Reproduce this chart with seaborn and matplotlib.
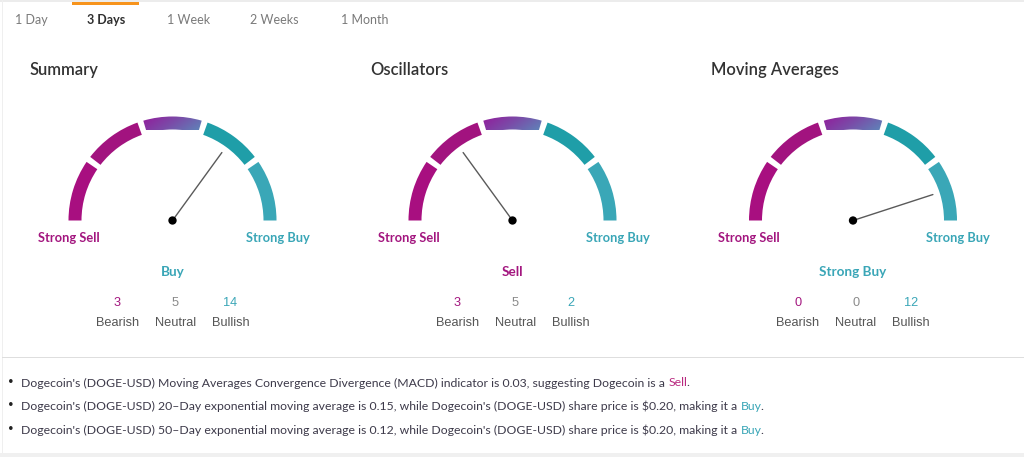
import numpy as np
import pandas as pd
import matplotlib
matplotlib.use("Agg")
import matplotlib.pyplot as plt
from matplotlib.patches import Wedge, Rectangle
from matplotlib.colors import LinearSegmentedColormap
import seaborn as sns

# ---------------- data ----------------
tabs = ["1 Day", "3 Days", "1 Week", "2 Weeks", "1 Month"]
active_tab = "3 Days"
panels = ["Summary", "Oscillators", "Moving Averages"]
needle_scores = [0.70, 0.30, 0.90]          # needle position (0 = Strong Sell, 1 = Strong Buy)
verdicts = ["Buy", "Sell", "Strong Buy"]
verdict_kind = ["buy", "sell", "buy"]
bearish = [3, 3, 0]
neutral = [5, 5, 0]
bullish = [14, 2, 12]
count_labels = ["Bearish", "Neutral", "Bullish"]
scale_ends = ["Strong Sell", "Strong Buy"]
bullet_texts = [
    "Dogecoin's (DOGE-USD) Moving Averages Convergence Divergence (MACD) indicator is 0.03, suggesting Dogecoin is a",
    "Dogecoin's (DOGE-USD) 20\u2013Day exponential moving average is 0.15, while Dogecoin's (DOGE-USD) share price is $0.20, making it a",
    "Dogecoin's (DOGE-USD) 50\u2013Day exponential moving average is 0.12, while Dogecoin's (DOGE-USD) share price is $0.20, making it a",
]
bullet_signals = ["Sell", "Buy", "Buy"]

# ---------------- style ----------------
sns.set_style("white")
plt.rcParams["font.family"] = ["Lato", "DejaVu Sans"]
plt.rcParams["text.parse_math"] = False

MAG = "#A3167F"
TEAL = "#3AA6B7"
GREY_N = "#8a8a8a"
seg_colors = ["#A80F80", "#A2137F", None, "#1F9EA8", "#3AA7B7"]
grad_cmap = LinearSegmentedColormap.from_list("mid", ["#95179A", "#7A4CA8", "#5C88BA"])

W, H = 1024, 457
fig = plt.figure(figsize=(W / 100, H / 100), dpi=100)
ax = fig.add_axes([0, 0, 1, 1])
ax.set_xlim(0, W)
ax.set_ylim(H, 0)
ax.axis("off")
renderer = fig.canvas.get_renderer()


def fit_font(txt, target_px):
    """Scale a text's font size so its rendered width equals target_px."""
    for _ in range(2):
        w = txt.get_window_extent(renderer=renderer).width
        txt.set_fontsize(txt.get_fontsize() * target_px / w)
    return txt.get_fontsize()


# frame elements
ax.add_patch(Rectangle((0, 0), W, 1.5, color="#ececec", lw=0))
ax.add_patch(Rectangle((72, 1.5), 67, 3, color="#F7941D", lw=0))
ax.add_patch(Rectangle((1.5, 0), 1, 453, color="#efefef", lw=0))
ax.add_patch(Rectangle((2, 357), W, 1.2, color="#dedede", lw=0))
ax.add_patch(Rectangle((0, 453), W, 4, color="#f0f0f0", lw=0))

# tabs
tab_x = [15, 87, 167, 250, 341]
for t, x in zip(tabs, tab_x):
    act = t == active_tab
    ax.text(x, 19.5, t, ha="left", va="center", fontsize=9.0,
            color="#2f2f2f" if act else "#7a7a7a",
            fontweight="bold" if act else "normal")

# gauges
centers = [172.5, 512.5, 853.0]
cy = 220.5
R, WID = 104, 13
gap = 3.4
title_x = [29, 370, 711]
needle_len = 84

gx, gy = np.meshgrid(np.linspace(0, 1, 60), np.linspace(0, 1, 30))
grad_img = (gx * 0.75 + gy * 0.25)

fs_title = fs_end = fs_verd = None
verdict_objs = []
for i, (name, cx) in enumerate(zip(panels, centers)):
    tt = ax.text(title_x[i], 70, name, ha="left", va="center", fontsize=12,
                 color="#333333", fontweight="semibold")
    if fs_title is None:
        fs_title = fit_font(tt, 69)
    tt.set_fontsize(fs_title)
    for s in range(5):
        lo = 180 - (s + 1) * 36 + (gap / 2 if s < 4 else 0)
        hi = 180 - s * 36 - (gap / 2 if s > 0 else 0)
        if seg_colors[s] is not None:
            ax.add_patch(Wedge((cx, cy), R, -hi, -lo, width=WID, color=seg_colors[s], lw=0))
        else:
            w = Wedge((cx, cy), R, -hi, -lo, width=WID, facecolor="none", lw=0)
            ax.add_patch(w)
            im = ax.imshow(grad_img, cmap=grad_cmap, extent=(cx - 32, cx + 32, cy - 90, cy - R - 1),
                           origin="upper", aspect="auto", interpolation="bilinear", zorder=2)
            im.set_clip_path(w)
    # scale ends
    e1 = ax.text(cx - R, 238, scale_ends[0], ha="center", va="center", fontsize=8.6,
                 color=MAG, fontweight="bold")
    e2 = ax.text(cx + R + 1, 238, scale_ends[1], ha="center", va="center", fontsize=8.6,
                 color=TEAL, fontweight="bold")
    if fs_end is None:
        fs_end = fit_font(e1, 61)
    e1.set_fontsize(fs_end)
    e2.set_fontsize(fs_end)
    # needle
    ang = np.pi * (1 - needle_scores[i])
    nd = pd.DataFrame({"x": [cx, cx + needle_len * np.cos(ang)],
                       "y": [cy, cy - needle_len * np.sin(ang)]})
    sns.lineplot(data=nd, x="x", y="y", ax=ax, color="#5a5a5a", lw=1.0,
                 sort=False, estimator=None, zorder=4)
    # verdict
    vt = ax.text(cx, 272.5, verdicts[i], ha="center", va="center", fontsize=9.7,
                 color=TEAL if verdict_kind[i] == "buy" else MAG, fontweight="bold")
    verdict_objs.append(vt)
    if verdicts[i] == "Strong Buy":
        fs_verd = fit_font(vt, 67)
    # counts
    vals = [bearish[i], neutral[i], bullish[i]]
    cols = [MAG, GREY_N, TEAL]
    offs = [-55, 3, 58]
    for v, lab, c, o in zip(vals, count_labels, cols, offs):
        ax.text(cx + o, 303.5, str(v), ha="center", va="center", fontsize=9.2,
                color=c, family=["Liberation Sans", "DejaVu Sans"])
        ax.text(cx + o, 322.5, lab, ha="center", va="center", fontsize=9.2,
                color="#555555", family=["Liberation Sans", "DejaVu Sans"])

for vt in verdict_objs:
    vt.set_fontsize(fs_verd)

pivots = pd.DataFrame({"x": centers, "y": [cy] * 3})
sns.scatterplot(data=pivots, x="x", y="y", ax=ax, color="black", s=36,
                edgecolor="none", zorder=5)
ax.set_xlim(0, W)
ax.set_ylim(H, 0)
ax.axis("off")

# bullets
bullet_y = [383, 406.5, 430]
fs_b = None
for txt, sig, y in zip(bullet_texts, bullet_signals, bullet_y):
    ax.text(10.5, y - 1.5, "\u2022", ha="center", va="center", fontsize=7, color="#222222")
    t = ax.text(21, y, txt, ha="left", va="center", fontsize=8.8, color="#3d3a4a")
    if fs_b is None:
        fs_b = fit_font(t, 646)
    t.set_fontsize(fs_b)
    s_ = ax.annotate(sig, xy=(1, y), xycoords=(t, "data"), xytext=(2.5, 0),
                     textcoords="offset points", ha="left", va="center",
                     fontsize=fs_b, color=TEAL if sig == "Buy" else "#B8287F")
    ax.annotate(".", xy=(1, y), xycoords=(s_, "data"), xytext=(-0.8, 0),
                textcoords="offset points", ha="left", va="center",
                fontsize=fs_b, color="#3d3a4a")

fig.savefig("out.png", dpi=100)
